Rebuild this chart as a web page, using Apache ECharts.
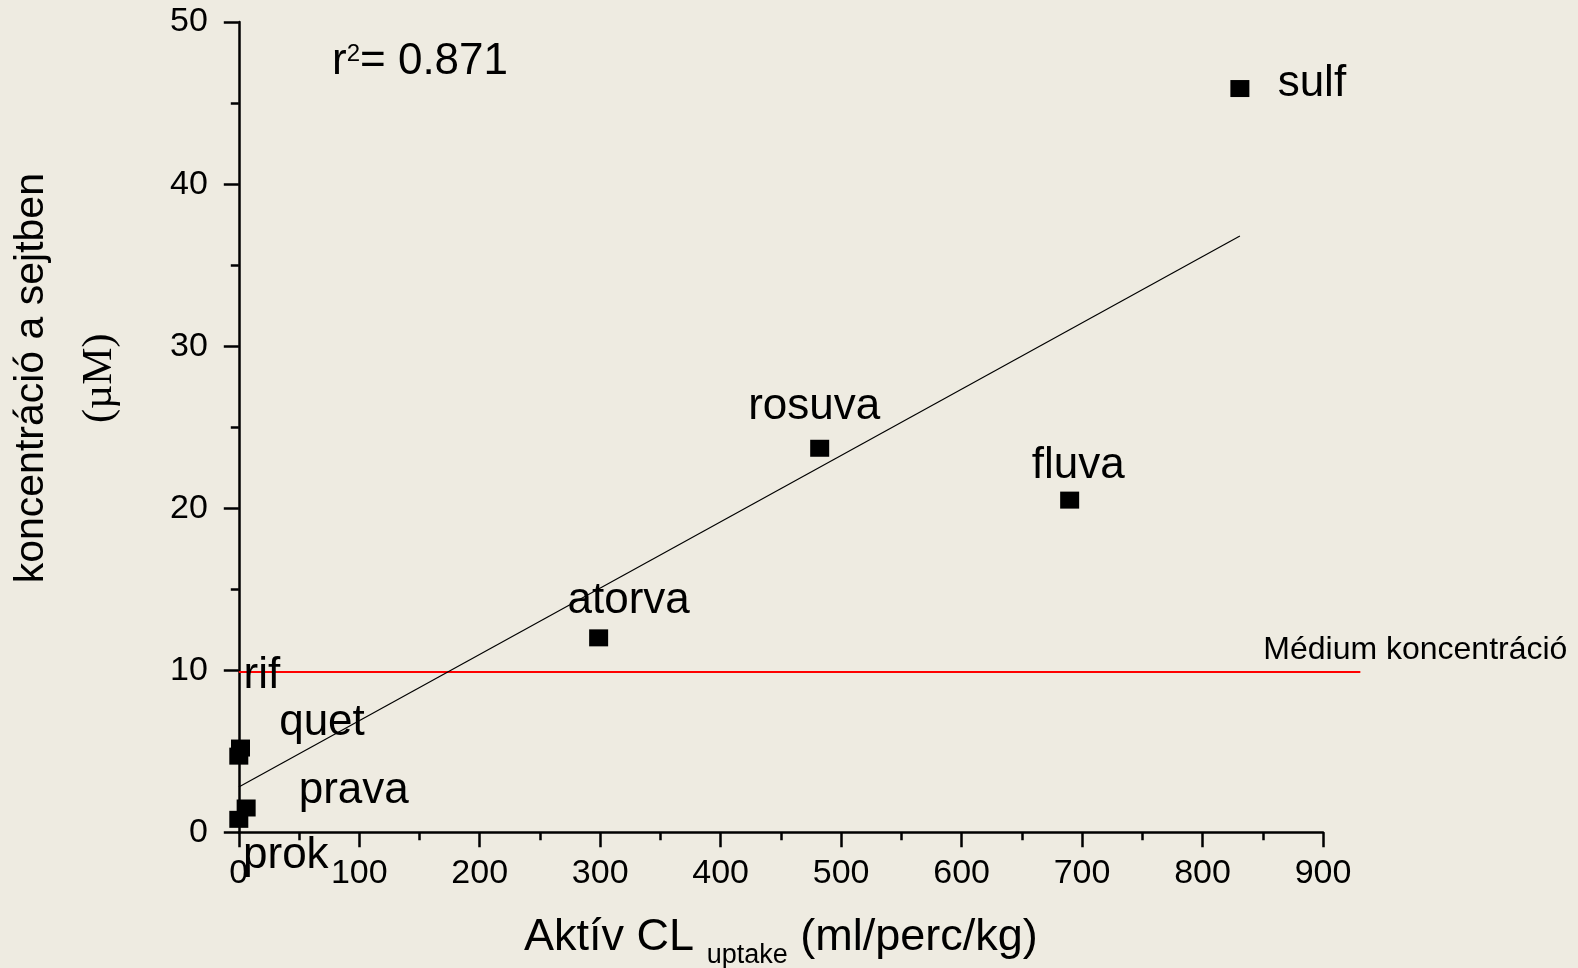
<!DOCTYPE html>
<html>
<head>
<meta charset="utf-8">
<script src="https://cdn.jsdelivr.net/npm/echarts@6/dist/echarts.min.js"></script>
<style>
  html, body { margin: 0; padding: 0; background: #eeebe1; }
  #chart { width: 1578px; height: 968px; }
</style>
</head>
<body>
<div id="chart"></div>
<script>
// ---- data ----
const pointNames = ['sulf', 'rosuva', 'fluva', 'atorva', 'quet', 'rif', 'prava', 'prok'];
const clUptake   = [831, 482.2, 689.7, 298.7, 1.4, 0, 6.1, 0];
const cellConc   = [45.9, 23.7, 20.5, 12.0, 5.2, 4.7, 1.5, 0.8];
const fitX = [0, 831];
const fitY = [2.8, 36.8];
const mediumX = [0, 931];
const mediumY = 9.9;
const mediumLabel = 'Médium koncentráció';
const r2Value = '0.871';
const xTickMin = 0, xTickMax = 900, xTickStep = 100;
const yTickMin = 0, yTickMax = 50, yTickStep = 10;

// ---- label placement (pixels, label centre relative to each point centre) ----
const labelOffsets = [[72, -4.4], [-5.5, -41], [8.6, -34.5], [30, -36.7], [81.5, -25.6], [23, -80.5], [107.6, -17], [47, 36.5]];
const SYM_W = 19, SYM_H = 17;

const FONT = 'Liberation Sans, Arial, sans-serif';

const scatterData = pointNames.map((n, i) => ({
  name: n,
  value: [clUptake[i], cellConc[i]],
  label: { position: [SYM_W / 2 + labelOffsets[i][0], SYM_H / 2 + labelOffsets[i][1]] }
}));

const fitData = fitX.map((x, i) => [x, fitY[i]]);

const chart = echarts.init(document.getElementById('chart'), null, { renderer: 'canvas' });
chart.setOption({
  backgroundColor: '#eeebe1',
  animation: false,
  title: {
    left: 327, top: 35,
    text: '{a|r}{s|2}{a|= ' + r2Value + '}',
    textStyle: {
      fontFamily: FONT, color: '#000', fontWeight: 'normal',
      rich: {
        a: { fontSize: 44, fontFamily: FONT, color: '#000', fontWeight: 'normal' },
        s: { fontSize: 24, fontFamily: FONT, color: '#000', fontWeight: 'normal', padding: [0, 0, 16, 0] }
      }
    }
  },
  grid: {
    left: 238.8, right: 255, top: 22.1, bottom: 135.7,
    containLabel: false, outerBoundsMode: 'none'
  },
  xAxis: {
    type: 'value', min: xTickMin, max: xTickMax, interval: xTickStep,
    name: '{a|Aktív CL }{sub|uptake}{a| (ml/perc/kg)}',
    nameLocation: 'middle', nameGap: 72,
    nameTextStyle: {
      fontFamily: FONT, color: '#000',
      rich: {
        a: { fontSize: 45, lineHeight: 66, fontFamily: FONT, color: '#000' },
        sub: { fontSize: 27, lineHeight: 27, verticalAlign: 'top', padding: [38, 0, 0, 0], fontFamily: FONT, color: '#000' }
      }
    },
    axisLine: { show: true, onZero: false, lineStyle: { color: '#000', width: 2.5 } },
    axisTick: { show: true, length: 15, lineStyle: { color: '#000', width: 2.5 } },
    minorTick: { show: true, splitNumber: 2, length: 8, lineStyle: { color: '#000', width: 2.5 } },
    axisLabel: { fontSize: 34, color: '#000', fontFamily: FONT, margin: 24 },
    splitLine: { show: false }
  },
  yAxis: {
    type: 'value', min: yTickMin, max: yTickMax, interval: yTickStep,
    name: '{a|koncentráció a sejtben}\n{b|(µM)}',
    nameLocation: 'middle', nameRotate: 90, nameGap: 104,
    nameTextStyle: {
      color: '#000', padding: [0, 0, 0, 98],
      rich: {
        a: { fontSize: 41, lineHeight: 69, fontFamily: FONT, color: '#000' },
        b: { fontSize: 42, lineHeight: 69, fontFamily: 'Liberation Serif, Times New Roman, serif', color: '#000' }
      }
    },
    axisLine: { show: true, onZero: false, lineStyle: { color: '#000', width: 2.5 } },
    axisTick: { show: true, length: 15, lineStyle: { color: '#000', width: 2.5 } },
    minorTick: { show: true, splitNumber: 2, length: 8, lineStyle: { color: '#000', width: 2.5 } },
    axisLabel: { fontSize: 34, color: '#000', fontFamily: FONT, margin: 31 },
    splitLine: { show: false }
  },
  series: [
    {
      // medium concentration line (extends beyond the x-axis end, so drawn unclipped)
      type: 'custom', clip: false, z: 2, silent: true,
      data: [[mediumX[0], mediumX[1], mediumY]],
      renderItem: function (params, api) {
        const p0 = api.coord([api.value(0), api.value(2)]);
        const p1 = api.coord([api.value(1), api.value(2)]);
        return {
          type: 'group',
          children: [
            {
              type: 'line',
              shape: { x1: p0[0], y1: p0[1], x2: p1[0], y2: p1[1] },
              style: { stroke: '#ff0000', lineWidth: 2 }
            },
            {
              type: 'text',
              x: p1[0] + 55, y: p1[1] - 22,
              style: {
                text: mediumLabel, fill: '#000', font: '32px ' + FONT,
                align: 'center', verticalAlign: 'middle'
              }
            }
          ]
        };
      }
    },
    {
      type: 'line', data: fitData, clip: false, z: 3,
      symbol: 'none',
      lineStyle: { color: '#000', width: 1.2 },
      silent: true
    },
    {
      type: 'scatter', data: scatterData, clip: false, z: 4,
      symbol: 'rect', symbolSize: [SYM_W, SYM_H],
      itemStyle: { color: '#000', opacity: 1 },
      label: {
        show: true, formatter: '{b}', align: 'center', verticalAlign: 'middle',
        fontSize: 44, color: '#000', fontFamily: FONT, opacity: 1
      },
      labelLayout: { hideOverlap: false },
      emphasis: { disabled: true }
    }
  ]
});
</script>
</body>
</html>
